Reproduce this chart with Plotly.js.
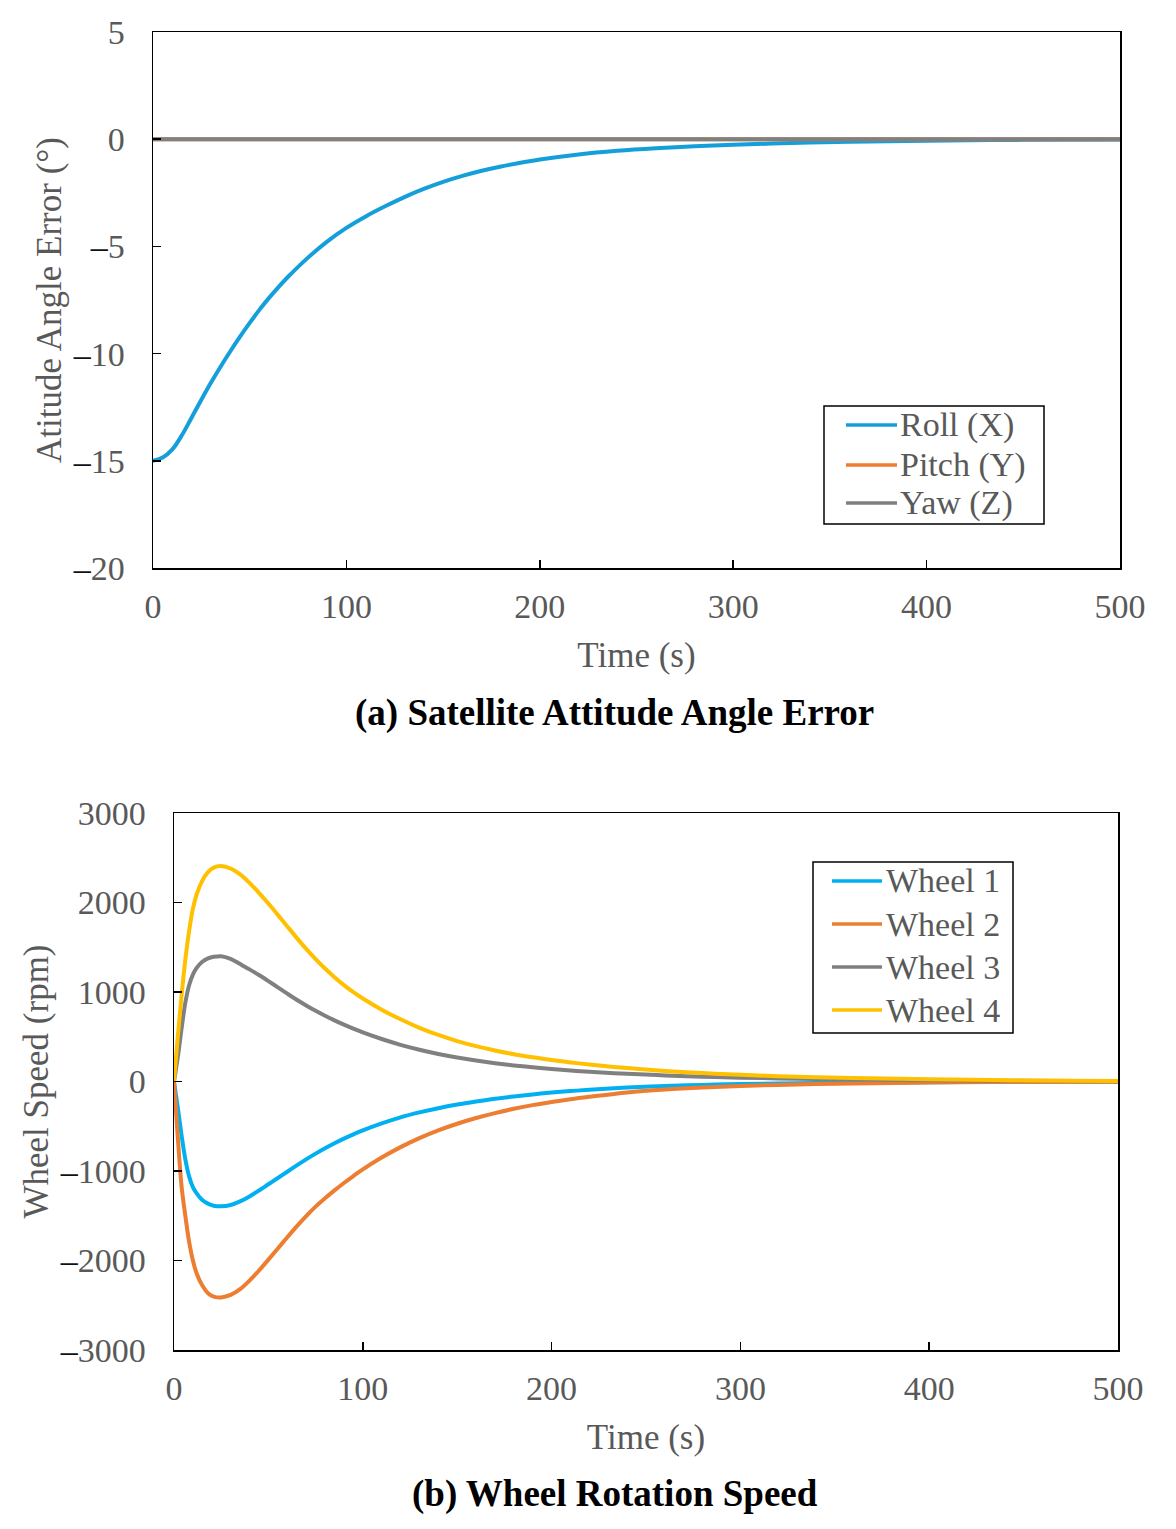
<!DOCTYPE html>
<html>
<head>
<meta charset="utf-8">
<script src="https://cdn.plot.ly/plotly-3.0.1.min.js"></script>
<style>html,body{margin:0;padding:0;background:#fff;}#chart{width:1176px;height:1529px;}</style>
</head>
<body>
<div id="chart"></div>
<script>
// ---- Panel (a): attitude angle error (deg) ----
var timeA = [0,5,10,15,20,25,30,35,40,45,50,55,60,65,70,80,90,100,110,120,130,140,150,160,170,180,190,200,220,240,260,280,300,330,360,400,450,500];
var rollX = [-15.0,-14.85,-14.47,-13.8,-12.98,-12.15,-11.35,-10.6,-9.89,-9.21,-8.57,-7.96,-7.4,-6.885,-6.405,-5.535,-4.775,-4.135,-3.6,-3.13,-2.7,-2.32,-1.99,-1.71,-1.47,-1.27,-1.1,-0.95,-0.71,-0.54,-0.42,-0.33,-0.26,-0.18,-0.12,-0.07,-0.03,-0.01];
var pitchY = timeA.map(function(){return 0;});
var yawZ = timeA.map(function(){return 0;});
var seriesNamesA = ['Roll (X)','Pitch (Y)','Yaw (Z)'];
var colorsA = ['#159FDA','#ED7D31','#808080'];

// ---- Panel (b): wheel speeds (rpm) ----
var timeB = [0,2,4,6,8,10,12,15,18,21,25,30,35,40,45,50,55,60,65,70,75,80,85,90,95,100,110,120,130,140,150,160,170,180,190,200,210,220,240,260,280,300,330,360,400,450,500];
var wheel1 = [0,-290,-600,-870,-1060,-1180,-1250,-1325,-1365,-1388,-1395,-1380,-1340,-1284,-1218,-1148,-1078,-1008,-938,-870,-806,-746,-690,-638,-590,-546,-468,-400,-345,-298,-258,-224,-193,-167,-144,-124,-107,-92,-68,-50,-38,-29,-19,-13,-7,-3,-1];
var wheel2 = [0,-620,-1170,-1500,-1790,-2000,-2145,-2280,-2365,-2403,-2413,-2385,-2320,-2225,-2112,-1990,-1866,-1740,-1618,-1503,-1398,-1305,-1217,-1134,-1056,-982,-850,-733,-632,-546,-472,-408,-353,-305,-264,-229,-198,-171,-122,-90,-67,-50,-33,-22,-12,-5,-2];
var wheel3 = [0,270,590,880,1075,1195,1270,1338,1375,1393,1400,1370,1312,1253,1190,1122,1052,982,914,850,790,735,683,635,590,548,475,410,355,308,268,234,205,180,158,139,123,109,86,68,54,43,31,22,14,7,3];
var wheel4 = [0,500,960,1360,1680,1930,2090,2245,2340,2390,2408,2380,2315,2220,2108,1988,1862,1733,1605,1482,1368,1262,1165,1077,998,928,803,695,600,520,452,395,347,305,270,240,213,190,150,118,94,75,53,38,24,12,5];
var seriesNamesB = ['Wheel 1','Wheel 2','Wheel 3','Wheel 4'];
var colorsB = ['#00B0F0','#ED7D31','#808080','#FFC000'];

var xTicks = [0,100,200,300,400,500];
var yTicksA = [-20,-15,-10,-5,0,5];
var yTicksB = [-3000,-2000,-1000,0,1000,2000,3000];

var FONT = 'Liberation Serif, Times New Roman, serif';
var GRAY = '#595959';
var W = 1176, H = 1529;

function ln(color){ return {color: color, width: 4, shape: 'spline', smoothing: 1}; }
function tickText(vals){
  return vals.map(function(v){ return v < 0 ? '<span style="color:#111">\u2013</span>' + Math.abs(v) : String(v); });
}

var seriesA = [rollX, pitchY, yawZ];
var seriesB = [wheel1, wheel2, wheel3, wheel4];
var traces = [];
seriesA.forEach(function(s, i){
  traces.push({x: timeA, y: s, name: seriesNamesA[i], type: 'scatter', mode: 'lines', line: ln(colorsA[i]), xaxis: 'x', yaxis: 'y', showlegend: false});
});
seriesB.forEach(function(s, i){
  traces.push({x: timeB, y: s, name: seriesNamesB[i], type: 'scatter', mode: 'lines', line: ln(colorsB[i]), xaxis: 'x2', yaxis: 'y2', showlegend: false});
});

function axisBase(){
  return {
    showgrid: false, zeroline: false, showline: true, linecolor: '#000', linewidth: 1.5,
    mirror: true, ticks: 'inside', ticklen: 8, tickwidth: 1.5, tickcolor: '#000',
    tickfont: {family: FONT, size: 34, color: GRAY}, fixedrange: true
  };
}
var xa = Object.assign(axisBase(), {domain: [153/W, 1120/W], range: [0,500], tickvals: xTicks, anchor: 'y', ticklabelstandoff: 8,
  title: {text: 'Time (s)', font: {family: FONT, size: 35, color: GRAY}, standoff: 18}});
var ya = Object.assign(axisBase(), {domain: [1-568/H, 1-32/H], range: [-20,5], tickvals: yTicksA, ticktext: tickText(yTicksA), anchor: 'x', ticklabelstandoff: 20,
  title: {text: 'Atitude Angle Error (°)', font: {family: FONT, size: 35, color: GRAY}, standoff: 0}});
var xb = Object.assign(axisBase(), {domain: [174/W, 1118/W], range: [0,500], tickvals: xTicks, anchor: 'y2', ticklabelstandoff: 8,
  title: {text: 'Time (s)', font: {family: FONT, size: 35, color: GRAY}, standoff: 18}});
var yb = Object.assign(axisBase(), {domain: [1-1350/H, 1-813/H], range: [-3000,3000], tickvals: yTicksB, ticktext: tickText(yTicksB), anchor: 'x2', ticklabelstandoff: 20,
  title: {text: 'Wheel Speed (rpm)', font: {family: FONT, size: 35, color: GRAY}, standoff: 0}});

// ---- legends drawn as boxes with sample lines and text ----
var shapes = [], annotations = [];
function addLegend(names, colors, box, lineX0, lineX1, textX, rowYs){
  shapes.push({type: 'rect', xref: 'paper', yref: 'paper', x0: box[0]/W, x1: box[1]/W, y0: 1-box[3]/H, y1: 1-box[2]/H,
    line: {color: '#000', width: 1.5}, fillcolor: '#fff', layer: 'above'});
  names.forEach(function(n, i){
    shapes.push({type: 'line', xref: 'paper', yref: 'paper', x0: lineX0/W, x1: lineX1/W, y0: 1-rowYs[i]/H, y1: 1-rowYs[i]/H,
      line: {color: colors[i], width: 3.5}, layer: 'above'});
    annotations.push({text: n, xref: 'paper', yref: 'paper', x: textX/W, y: 1-rowYs[i]/H, xanchor: 'left', yanchor: 'middle',
      showarrow: false, font: {family: FONT, size: 34, color: GRAY}});
  });
}
addLegend(seriesNamesA, colorsA, [824, 1044, 406, 524], 846, 897, 898, [425, 465, 503]);
addLegend(seriesNamesB, colorsB, [813, 1013, 862, 1033], 832, 882, 884, [881, 924, 967, 1010]);

annotations.push({text: '<b>(a) Satellite Attitude Angle Error</b>', xref: 'paper', yref: 'paper', x: 614/W, y: 1-713/H,
  xanchor: 'center', yanchor: 'middle', showarrow: false, font: {family: FONT, size: 37, color: '#000'}});
annotations.push({text: '<b>(b) Wheel Rotation Speed</b>', xref: 'paper', yref: 'paper', x: 615/W, y: 1-1494/H,
  xanchor: 'center', yanchor: 'middle', showarrow: false, font: {family: FONT, size: 37, color: '#000'}});

var layout = {
  width: W, height: H,
  margin: {l: 0, r: 0, t: 0, b: 0},
  paper_bgcolor: '#fff', plot_bgcolor: '#fff',
  font: {family: FONT, color: GRAY},
  showlegend: false,
  xaxis: xa, yaxis: ya, xaxis2: xb, yaxis2: yb,
  shapes: shapes,
  annotations: annotations
};

Plotly.newPlot('chart', traces, layout, {displayModeBar: false, staticPlot: true});
</script>
</body>
</html>
